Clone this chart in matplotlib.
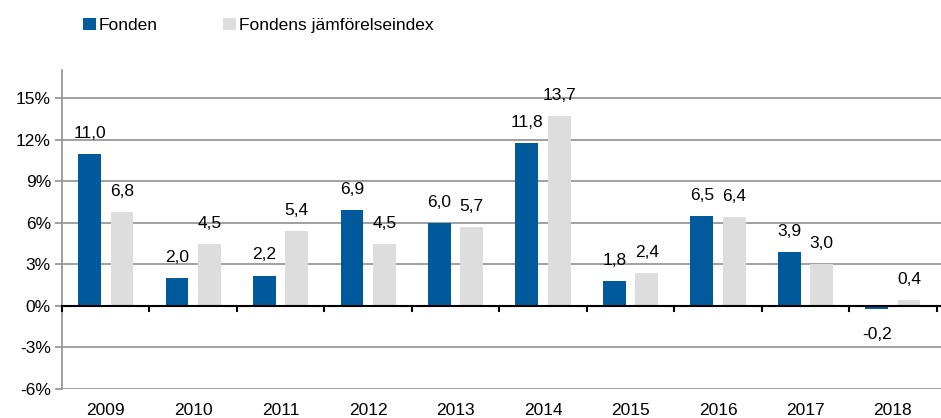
import matplotlib.pyplot as plt
import numpy as np

plt.rcParams['font.family'] = ['Liberation Sans', 'DejaVu Sans']

years = ['2009', '2010', '2011', '2012', '2013', '2014', '2015', '2016', '2017', '2018']
fonden = [11.0, 2.0, 2.2, 6.9, 6.0, 11.8, 1.8, 6.5, 3.9, -0.2]
index = [6.8, 4.5, 5.4, 4.5, 5.7, 13.7, 2.4, 6.4, 3.0, 0.4]
yticks = [-6, -3, 0, 3, 6, 9, 12, 15]

blue = '#005a9b'
gray = '#dddddd'
grid = '#999999'
fs = 12.5

fig = plt.figure(figsize=(9.41, 4.18), dpi=100)
ax = fig.add_axes([62 / 941, 1 - 389 / 418, 879 / 941, (389 - 70) / 418])

x = np.arange(len(years))
w = 0.26
b1 = ax.bar(x - 0.185, fonden, w, color=blue, label='Fonden', zorder=3)
b2 = ax.bar(x + 0.185, index, w, color=gray, label='Fondens jämförelseindex', zorder=3)

# value labels
for bars, vals in [(b1, fonden), (b2, index)]:
    for bar, v in zip(bars, vals):
        cx = bar.get_x() + bar.get_width() / 2
        txt = ('%.1f' % v).replace('.', ',')
        if v >= 0:
            ax.text(cx, v + 0.95, txt, ha='center', va='bottom', fontsize=fs)
        else:
            ax.text(cx, v - 1.3, txt, ha='center', va='top', fontsize=fs)

ax.set_xlim(-0.5, len(years) - 0.5 + 0.05)
ax.set_ylim(-6, 17.05)
ax.set_yticks(yticks)
ax.set_yticklabels(['%d%%' % t for t in yticks], fontsize=fs)
ax.yaxis.grid(True, color=grid, linewidth=1.3, zorder=0)
ax.tick_params(axis='y', color=grid, length=5, width=1.3, pad=3)

# category labels under the plot, boundary ticks on the zero line
ax.set_xticks(x)
ax.set_xticklabels(years, fontsize=fs)
ax.tick_params(axis='x', length=0, pad=10)
ax.axhline(0, color='black', linewidth=1.5, zorder=4)
for b in np.arange(len(years) + 1) - 0.5:
    ax.plot([b, b], [0, -0.35], color='black', linewidth=1.5, zorder=4, clip_on=False)

for s in ['top', 'right', 'bottom']:
    ax.spines[s].set_visible(False)
ax.spines['left'].set_color(grid)
ax.spines['left'].set_linewidth(1.3)

fig.legend(handles=[b1, b2], loc='upper left', bbox_to_anchor=(67 / 941, 1 - 2 / 418),
           ncol=2, frameon=False, fontsize=fs, handlelength=0.75, handleheight=0.75,
           handletextpad=0.15, columnspacing=3.8)

fig.savefig('out.png', dpi=100)
